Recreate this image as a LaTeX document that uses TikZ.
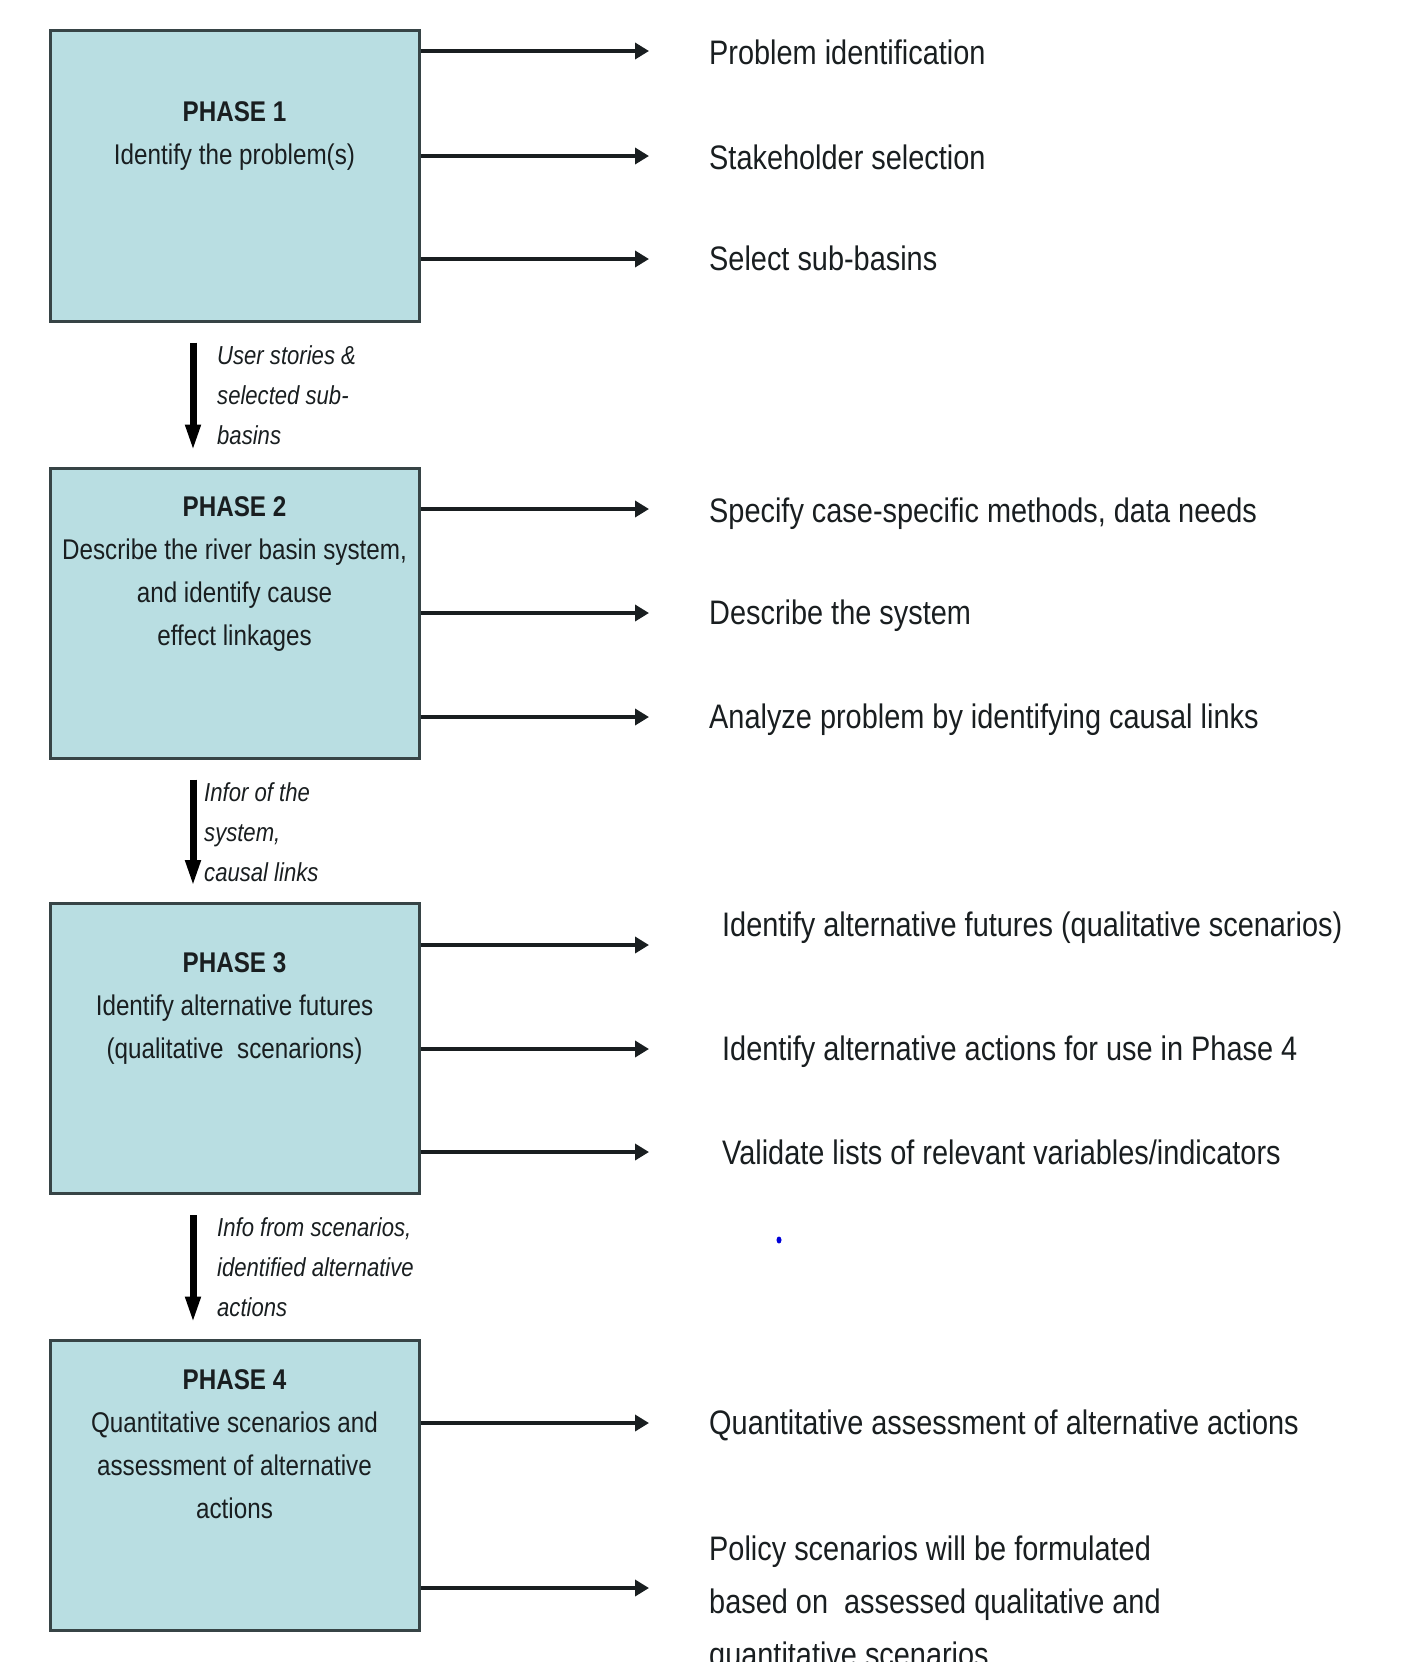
\documentclass[tikz,border=0pt]{standalone}
\usepackage{fontspec}
\setmainfont{Liberation Sans}[FakeStretch=0.85]
\usetikzlibrary{arrows.meta}
\definecolor{boxfill}{RGB}{185,222,226}
\definecolor{boxline}{RGB}{55,68,70}
\definecolor{txt}{RGB}{25,30,32}
\tikzset{
  phasebox/.style={draw=boxline, line width=3pt, fill=boxfill, minimum width=369pt, minimum height=290pt, inner sep=0pt},
  boxtext/.style={align=center, text=txt, inner sep=0pt, font=\fontsize{28.5pt}{43pt}\selectfont},
  rarrow/.style={draw=txt, line width=3.5pt, -{Triangle[length=14pt,width=16pt]}},
  darrow/.style={draw=black, line width=7pt, -{Triangle[length=27pt,width=14pt]}, shorten <=20pt, shorten >=15pt},
  rlabel/.style={anchor=west, text=txt, inner sep=0pt, align=left, font=\fontsize{34pt}{53pt}\selectfont},
  ilabel/.style={anchor=north west, text=txt, inner sep=0pt, align=left, font=\fontsize{26pt}{40pt}\selectfont\itshape}
}
\begin{document}
\begin{tikzpicture}[x=1pt,y=-1pt]
\useasboundingbox (0,0) rectangle (1410,1662);
% boxes
\node[phasebox] (p1) at (234.5,176) {};
\node[phasebox] (p2) at (234.5,613) {};
\node[phasebox] (p3) at (234.5,1048.5) {};
\node[phasebox] (p4) at (234.5,1485) {};
% box texts
\node[boxtext] (t1) at (234.5,136) {\textbf{PHASE 1}\\Identify the problem(s)};
\node[boxtext] (t2) at (234.5,574) {\textbf{PHASE 2}\\Describe the river basin system,\\and identify cause\\effect linkages};
\node[boxtext] (t3) at (234.5,1008) {\textbf{PHASE 3}\\Identify alternative futures\\(qualitative\ \ scenarions)};
\node[boxtext] (t4) at (234.5,1444) {\textbf{PHASE 4}\\Quantitative scenarios and\\assessment of alternative\\actions};
% down arrows
\coordinate (dx) at (193,0);
\draw[darrow] (p1.south -| dx) -- (p2.north -| dx);
\draw[darrow] (p2.south -| dx) -- (p3.north -| dx);
\draw[darrow] (p3.south -| dx) -- (p4.north -| dx);
\node[ilabel] (l1) at (217,345) {User stories \&\\selected sub-\\basins};
\node[ilabel] (l2) at (204,782) {Infor of the\\system,\\causal links};
\node[ilabel] (l3) at (217,1217) {Info from scenarios,\\identified alternative\\actions};
% right arrows endpoints
\coordinate (e11) at (649,51);
\coordinate (e12) at (649,156);
\coordinate (e13) at (649,259);
\coordinate (e21) at (649,509);
\coordinate (e22) at (649,613);
\coordinate (e23) at (649,717);
\coordinate (e31) at (649,945);
\coordinate (e32) at (649,1049);
\coordinate (e33) at (649,1152);
\coordinate (e41) at (649,1423);
\coordinate (e42) at (649,1588);
\foreach \b/\e in {p1/e11,p1/e12,p1/e13,p2/e21,p2/e22,p2/e23,p3/e31,p3/e32,p3/e33,p4/e41,p4/e42}
  \draw[rarrow] (\b.east |- \e) -- (\e);
% right labels
\node[rlabel] (r11) at (709,52) {Problem identification};
\node[rlabel] (r12) at (709,157) {Stakeholder selection};
\node[rlabel] (r13) at (709,258) {Select sub-basins};
\node[rlabel] (r21) at (709,514) {Specify case-specific methods, data needs};
\node[rlabel] (r22) at (709,616) {Describe the system};
\node[rlabel] (r23) at (709,720) {Analyze problem by identifying causal links};
\node[rlabel] (r31) at (722,928) {Identify alternative futures (qualitative scenarios)};
\node[rlabel] (r32) at (722,1052) {Identify alternative actions for use in Phase 4};
\node[rlabel] (r33) at (722,1152) {Validate lists of relevant variables/indicators};
\node[rlabel] (r41) at (709,1425) {Quantitative assessment of alternative actions};
\node[rlabel, anchor=north west] (r42) at (709,1536) {Policy scenarios will be formulated\\based on\ \ assessed qualitative and\\quantitative scenarios};
% stray dot
\fill[blue!85!black] (779,1240) ellipse (2.5pt and 3.5pt);
\end{tikzpicture}
\end{document}
